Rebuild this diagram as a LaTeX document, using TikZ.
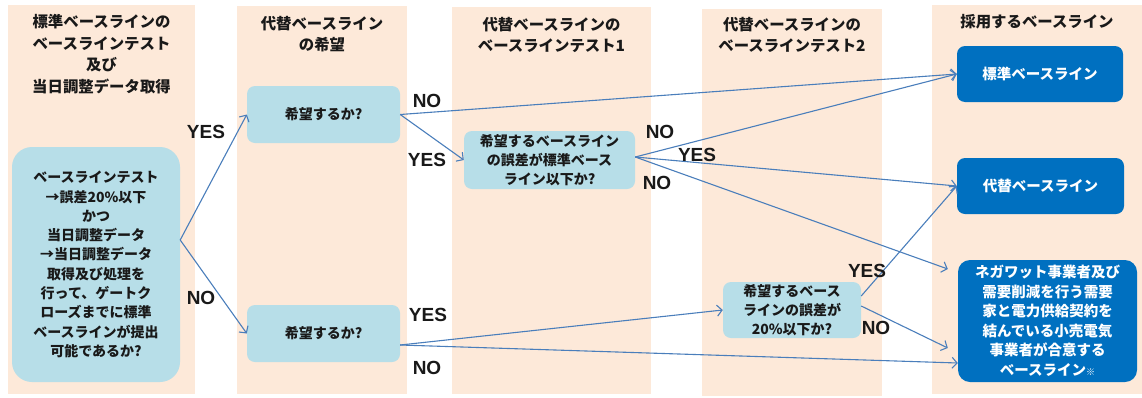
\documentclass[tikz,border=0pt]{standalone}
\usepackage{fontspec}
\setmainfont{Noto Sans CJK JP}
\newfontfamily\lat{Liberation Sans}
\usetikzlibrary{arrows.meta}
\definecolor{peach}{HTML}{FDE9D9}
\definecolor{lblue}{HTML}{B7DEE8}
\definecolor{dblue}{HTML}{0070C0}
\definecolor{arrowblue}{HTML}{4A7EBB}
\begin{document}
\begin{tikzpicture}[x=1pt,y=-1pt,
  colbg/.style={fill=peach,draw=none},
  title/.style={font=\bfseries\fontsize{15.4}{21.5}\selectfont,align=center,text=black!90,inner sep=0pt},
  qbox/.style={fill=lblue,rounded corners=8pt,align=center,inner sep=0pt,
    font=\bfseries\fontsize{14}{19.3}\selectfont,text=black!90},
  rbox/.style={fill=dblue,rounded corners=8pt,align=center,inner sep=0pt,
    font=\bfseries\fontsize{14.5}{19.5}\selectfont,text=white},
  lbl/.style={font=\lat\bfseries\fontsize{19}{19}\selectfont,inner sep=0pt,text=black!90},
  arr/.style={draw=arrowblue,line width=1.1pt,-{Straight Barb[length=5pt,width=11pt]}}
]
\useasboundingbox (0,0) rectangle (1142,397);
% columns
\fill[colbg] (8,5) rectangle (195,394);
\fill[colbg] (237,6) rectangle (407,394);
\fill[colbg] (452,7) rectangle (651,394);
\fill[colbg] (702,9) rectangle (882,396);
\fill[colbg] (932,5) rectangle (1142,394);
% titles
\node[title] (t1) at (101.5,54) {標準ベースラインの\\ベースラインテスト\\及び\\当日調整データ取得};
\node[title] (t2) at (322,34) {代替ベースライン\\の希望};
\node[title] (t3) at (551.5,35) {代替ベースラインの\\ベースラインテスト1};
\node[title] (t4) at (792,35) {代替ベースラインの\\ベースラインテスト2};
\node[title] (t5) at (1037,22) {採用するベースライン};
% nodes
\node[qbox,rounded corners=20pt,minimum width=168pt,minimum height=235pt] (start) at (96,264.5)
  {ベースラインテスト\\→誤差20\%以下\\かつ\\当日調整データ\\→当日調整データ\\取得及び処理を\\行って、ゲートク\\ローズまでに標準\\ベースラインが提出\\可能であるか?};
\node[qbox,minimum width=153pt,minimum height=57pt] (q1) at (323.5,114.5) {希望するか?};
\node[qbox,minimum width=153pt,minimum height=57pt] (q2) at (323.5,333.5) {希望するか?};
\node[qbox,minimum width=171pt,minimum height=58pt] (q3) at (549.5,160) {希望するベースライン\\の誤差が標準ベース\\ライン以下か?};
\node[qbox,minimum width=138pt,minimum height=56pt] (q4) at (792,310) {希望するベース\\ラインの誤差が\\20\%以下か?};
\node[rbox,minimum width=166pt,minimum height=56pt] (r1) at (1040,74) {標準ベースライン};
\node[rbox,minimum width=167pt,minimum height=56pt] (r2) at (1040.5,186) {代替ベースライン};
\node[rbox,rounded corners=12pt,minimum width=179pt,minimum height=122pt] (r3) at (1047.5,321)
  {ネガワット事業者及び\\需要削減を行う需要\\家と電力供給契約を\\結んでいる小売電気\\事業者が合意する\\ベースライン{\fontsize{9}{9}\selectfont ※}};
% connectors
\draw[arr] ([yshift=24.5pt]start.east) -- (q1.west);
\draw[arr] ([yshift=24.5pt]start.east) -- (q2.west);
\draw[arr] (q1.east) -- (r1.west);
\draw[arr] (q1.east) -- (q3.west);
\draw[arr] ([yshift=3pt]q3.east) -- (r1.west);
\draw[arr] ([yshift=3pt]q3.east) -- (r2.west);
\draw[arr] ([yshift=3pt]q3.east) -- ([xshift=-10pt,yshift=52pt]r3.west);
\draw[arr] ([yshift=-11.5pt]q2.east) -- (q4.west);
\draw[arr] ([yshift=-11.5pt]q2.east) -- ([yshift=-42pt]r3.west);
\draw[arr] ([yshift=14pt]q4.east) -- (r2.west);
\draw[arr] ([yshift=4pt]q4.east) -- ([xshift=-10pt,yshift=-27pt]r3.west);
% labels
\node[lbl] (l1) at (206,132) {YES};
\node[lbl] (l2) at (201,298) {NO};
\node[lbl] (l3) at (427,101) {NO};
\node[lbl] (l4) at (427,160) {YES};
\node[lbl] (l5) at (660,132) {NO};
\node[lbl] (l6) at (697,155) {YES};
\node[lbl] (l7) at (657,183) {NO};
\node[lbl] (l8) at (428,315) {YES};
\node[lbl] (l9) at (427,368) {NO};
\node[lbl] (l10) at (867,271) {YES};
\node[lbl] (l11) at (876,328) {NO};
\end{tikzpicture}
\end{document}
